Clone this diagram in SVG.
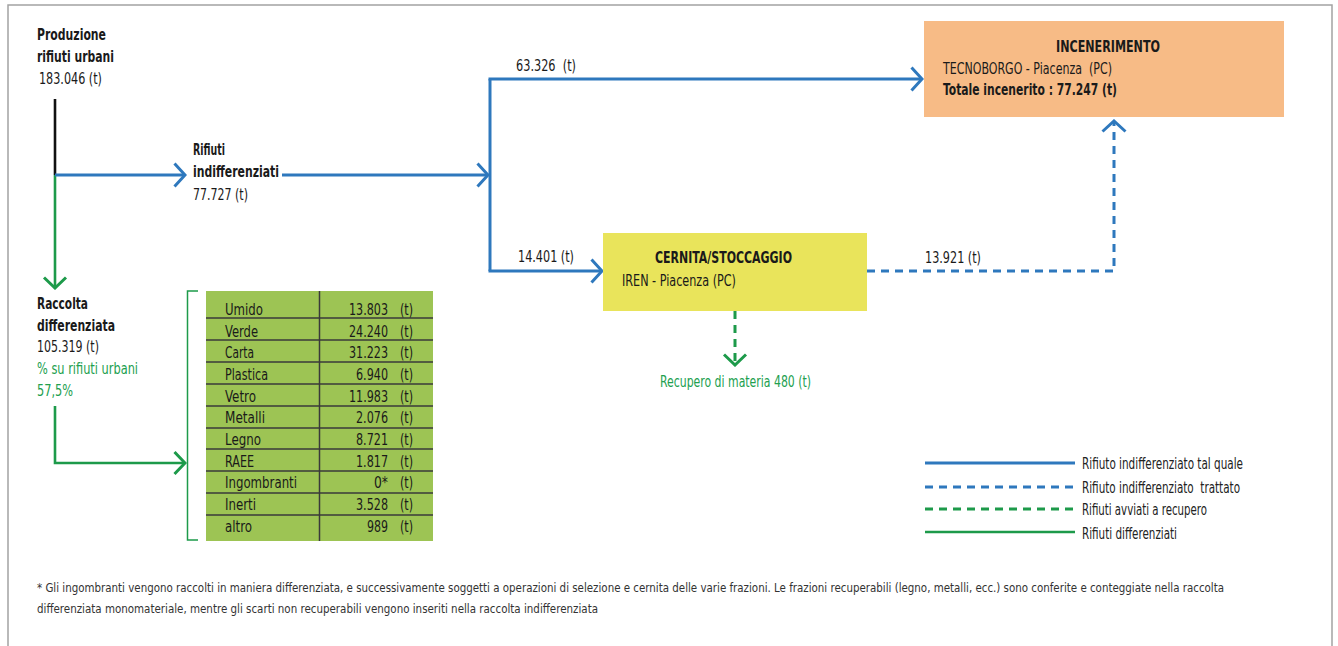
<svg xmlns="http://www.w3.org/2000/svg" width="1338" height="646" viewBox="0 0 1338 646">
<style>
text{font-family:'Liberation Sans Narrow','Arial Narrow','DejaVu Sans Condensed',sans-serif;font-size:15px;fill:#1a1a1a}
.b{font-weight:bold}
.g{fill:#22a04f}
.t{font-size:16.5px}
.lg{font-size:15.5px;fill:#222}
.fn{font-size:12px;fill:#333}
.blue{stroke:#2e78bd;stroke-width:3;fill:none}
.bd{stroke:#2e78bd;stroke-width:3;fill:none;stroke-dasharray:8 6}
.grn{stroke:#1d9a4a;stroke-width:2.6;fill:none}
.gd{stroke:#1d9a4a;stroke-width:3;fill:none;stroke-dasharray:8 6}
.row{stroke:#3a3a3a;stroke-width:1.5}
</style>
<defs>
<marker id="ab" markerUnits="userSpaceOnUse" viewBox="0 0 14 26" markerWidth="14" markerHeight="26" refX="12" refY="13" orient="auto"><path d="M1.5,1.5 L12,13 L1.5,24.5" fill="none" stroke="#2e78bd" stroke-width="3"/></marker>
<marker id="ag" markerUnits="userSpaceOnUse" viewBox="0 0 14 26" markerWidth="14" markerHeight="26" refX="12" refY="13" orient="auto"><path d="M1.5,2 L12,13 L1.5,24" fill="none" stroke="#1d9a4a" stroke-width="3"/></marker>
</defs>
<rect width="1338" height="646" fill="#fff"/>
<path d="M8,650 V5 H1332 V650" fill="none" stroke="#a3a3a3" stroke-width="1.5"/>

<g id="connectors">
<line x1="55" y1="99" x2="55" y2="175" stroke="#111" stroke-width="2.6"/>
<line class="grn" x1="55" y1="175" x2="55" y2="288" marker-end="url(#ag)"/>
<line class="blue" x1="55" y1="175" x2="185" y2="175" marker-end="url(#ab)"/>
<line class="blue" x1="282" y1="175" x2="488" y2="175" marker-end="url(#ab)"/>
<path class="blue" d="M490,79 V271"/>
<path class="blue" d="M488.5,79 H922" marker-end="url(#ab)"/>
<path class="blue" d="M488.5,271 H602" marker-end="url(#ab)"/>
<path class="bd" d="M867,271 H1114 V121" marker-end="url(#ab)"/>
<line class="gd" x1="735" y1="311" x2="735" y2="365" marker-end="url(#ag)"/>
<path class="grn" d="M55,406 V463 H185" marker-end="url(#ag)"/>
<path d="M198,291 H187.5 V540 H198" fill="none" stroke="#1d9a4a" stroke-width="1.5"/>
</g>

<g id="produzione">
<text class="b" x="37" y="40" textLength="69" lengthAdjust="spacingAndGlyphs">Produzione</text>
<text class="b" x="37" y="62" textLength="77" lengthAdjust="spacingAndGlyphs">rifiuti urbani</text>
<text x="39" y="84" textLength="63" lengthAdjust="spacingAndGlyphs">183.046 (t)</text>
</g>

<g id="rifiuti-indifferenziati">
<text class="b" x="193" y="155" textLength="32" lengthAdjust="spacingAndGlyphs">Rifiuti</text>
<text class="b" x="193" y="177" textLength="86" lengthAdjust="spacingAndGlyphs">indifferenziati</text>
<text x="193" y="200" textLength="55" lengthAdjust="spacingAndGlyphs">77.727 (t)</text>
</g>

<g id="label-63326"><text x="516" y="71" textLength="60" lengthAdjust="spacingAndGlyphs" xml:space="preserve">63.326  (t)</text></g>
<g id="label-14401"><text x="518" y="262" textLength="56" lengthAdjust="spacingAndGlyphs">14.401 (t)</text></g>
<g id="label-13921"><text x="925" y="263" textLength="56" lengthAdjust="spacingAndGlyphs">13.921 (t)</text></g>

<g id="incenerimento">
<rect x="924" y="21" width="360" height="96" fill="#f7bb86"/>
<text class="b" x="1056" y="52" textLength="104" lengthAdjust="spacingAndGlyphs">INCENERIMENTO</text>
<text x="943" y="74" textLength="169" lengthAdjust="spacingAndGlyphs" xml:space="preserve">TECNOBORGO - Piacenza  (PC)</text>
<text class="b" x="943" y="95" textLength="174" lengthAdjust="spacingAndGlyphs">Totale incenerito : 77.247 (t)</text>
</g>

<g id="cernita">
<rect x="603" y="233" width="264" height="78" fill="#e9e45b"/>
<text class="b" x="655" y="263" textLength="137" lengthAdjust="spacingAndGlyphs">CERNITA/STOCCAGGIO</text>
<text x="622" y="286" textLength="114" lengthAdjust="spacingAndGlyphs">IREN - Piacenza (PC)</text>
</g>

<g id="recupero">
<text class="g" x="660" y="387" textLength="151" lengthAdjust="spacingAndGlyphs">Recupero di materia 480 (t)</text>
</g>

<g id="raccolta">
<text class="b" x="37" y="309" textLength="51" lengthAdjust="spacingAndGlyphs">Raccolta</text>
<text class="b" x="37" y="331" textLength="78" lengthAdjust="spacingAndGlyphs">differenziata</text>
<text x="37" y="352" textLength="62" lengthAdjust="spacingAndGlyphs">105.319 (t)</text>
<text class="g" x="37" y="374" textLength="101" lengthAdjust="spacingAndGlyphs">% su rifiuti urbani</text>
<text class="g" x="37" y="396" textLength="36" lengthAdjust="spacingAndGlyphs">57,5%</text>
</g>

<g id="tabella">
<rect x="206" y="291" width="227" height="250" fill="#9dc454"/>
<line class="row" x1="319.5" y1="291" x2="319.5" y2="541"/>
<g class="row">
<line x1="206" y1="318" x2="433" y2="318"/>
<line x1="206" y1="340" x2="433" y2="340"/>
<line x1="206" y1="362" x2="433" y2="362"/>
<line x1="206" y1="384" x2="433" y2="384"/>
<line x1="206" y1="406" x2="433" y2="406"/>
<line x1="206" y1="428" x2="433" y2="428"/>
<line x1="206" y1="449" x2="433" y2="449"/>
<line x1="206" y1="471" x2="433" y2="471"/>
<line x1="206" y1="493" x2="433" y2="493"/>
<line x1="206" y1="515" x2="433" y2="515"/>
</g>
<g>
<text class="t" x="225" y="315" textLength="38" lengthAdjust="spacingAndGlyphs">Umido</text>
<text class="t" x="225" y="337" textLength="33" lengthAdjust="spacingAndGlyphs">Verde</text>
<text class="t" x="225" y="358" textLength="29" lengthAdjust="spacingAndGlyphs">Carta</text>
<text class="t" x="225" y="380" textLength="43" lengthAdjust="spacingAndGlyphs">Plastica</text>
<text class="t" x="225" y="402" textLength="31" lengthAdjust="spacingAndGlyphs">Vetro</text>
<text class="t" x="225" y="423" textLength="40" lengthAdjust="spacingAndGlyphs">Metalli</text>
<text class="t" x="225" y="445" textLength="36" lengthAdjust="spacingAndGlyphs">Legno</text>
<text class="t" x="225" y="467" textLength="29" lengthAdjust="spacingAndGlyphs">RAEE</text>
<text class="t" x="225" y="488" textLength="72" lengthAdjust="spacingAndGlyphs">Ingombranti</text>
<text class="t" x="225" y="510" textLength="31" lengthAdjust="spacingAndGlyphs">Inerti</text>
<text class="t" x="225" y="532" textLength="27" lengthAdjust="spacingAndGlyphs">altro</text>
</g>
<g>
<text class="t" x="349" y="315" textLength="39" lengthAdjust="spacingAndGlyphs">13.803</text>
<text class="t" x="349" y="337" textLength="39" lengthAdjust="spacingAndGlyphs">24.240</text>
<text class="t" x="349" y="358" textLength="39" lengthAdjust="spacingAndGlyphs">31.223</text>
<text class="t" x="356" y="380" textLength="32" lengthAdjust="spacingAndGlyphs">6.940</text>
<text class="t" x="349" y="402" textLength="39" lengthAdjust="spacingAndGlyphs">11.983</text>
<text class="t" x="356" y="423" textLength="32" lengthAdjust="spacingAndGlyphs">2.076</text>
<text class="t" x="356" y="445" textLength="32" lengthAdjust="spacingAndGlyphs">8.721</text>
<text class="t" x="356" y="467" textLength="32" lengthAdjust="spacingAndGlyphs">1.817</text>
<text class="t" x="374" y="488" textLength="14" lengthAdjust="spacingAndGlyphs">0*</text>
<text class="t" x="356" y="510" textLength="32" lengthAdjust="spacingAndGlyphs">3.528</text>
<text class="t" x="367" y="532" textLength="21" lengthAdjust="spacingAndGlyphs">989</text>
</g>
<g>
<text class="t" x="400" y="315" textLength="13" lengthAdjust="spacingAndGlyphs">(t)</text>
<text class="t" x="400" y="337" textLength="13" lengthAdjust="spacingAndGlyphs">(t)</text>
<text class="t" x="400" y="358" textLength="13" lengthAdjust="spacingAndGlyphs">(t)</text>
<text class="t" x="400" y="380" textLength="13" lengthAdjust="spacingAndGlyphs">(t)</text>
<text class="t" x="400" y="402" textLength="13" lengthAdjust="spacingAndGlyphs">(t)</text>
<text class="t" x="400" y="423" textLength="13" lengthAdjust="spacingAndGlyphs">(t)</text>
<text class="t" x="400" y="445" textLength="13" lengthAdjust="spacingAndGlyphs">(t)</text>
<text class="t" x="400" y="467" textLength="13" lengthAdjust="spacingAndGlyphs">(t)</text>
<text class="t" x="400" y="488" textLength="13" lengthAdjust="spacingAndGlyphs">(t)</text>
<text class="t" x="400" y="510" textLength="13" lengthAdjust="spacingAndGlyphs">(t)</text>
<text class="t" x="400" y="532" textLength="13" lengthAdjust="spacingAndGlyphs">(t)</text>
</g>
</g>

<g id="legenda">
<line class="blue" x1="925" y1="463" x2="1075" y2="463" stroke-width="2.6"/>
<line class="bd" x1="925" y1="487" x2="1075" y2="487" stroke-width="2.6"/>
<line class="gd" x1="925" y1="509" x2="1075" y2="509" stroke-width="2.6"/>
<line class="grn" x1="925" y1="532" x2="1075" y2="532"/>
<text class="lg" x="1082" y="469" textLength="161" lengthAdjust="spacingAndGlyphs">Rifiuto indifferenziato tal quale</text>
<text class="lg" x="1082" y="493" textLength="158" lengthAdjust="spacingAndGlyphs" xml:space="preserve">Rifiuto indifferenziato  trattato</text>
<text class="lg" x="1082" y="515" textLength="125" lengthAdjust="spacingAndGlyphs">Rifiuti avviati a recupero</text>
<text class="lg" x="1082" y="539" textLength="95" lengthAdjust="spacingAndGlyphs">Rifiuti differenziati</text>
</g>

<g id="nota">
<text class="fn" x="37" y="592" textLength="1187" lengthAdjust="spacingAndGlyphs">* Gli ingombranti vengono raccolti in maniera differenziata, e successivamente soggetti a operazioni di selezione e cernita delle varie frazioni. Le frazioni recuperabili (legno, metalli, ecc.) sono conferite e conteggiate nella raccolta</text>
<text class="fn" x="37" y="613" textLength="561" lengthAdjust="spacingAndGlyphs">differenziata monomateriale, mentre gli scarti non recuperabili vengono inseriti nella raccolta indifferenziata</text>
</g>
</svg>
